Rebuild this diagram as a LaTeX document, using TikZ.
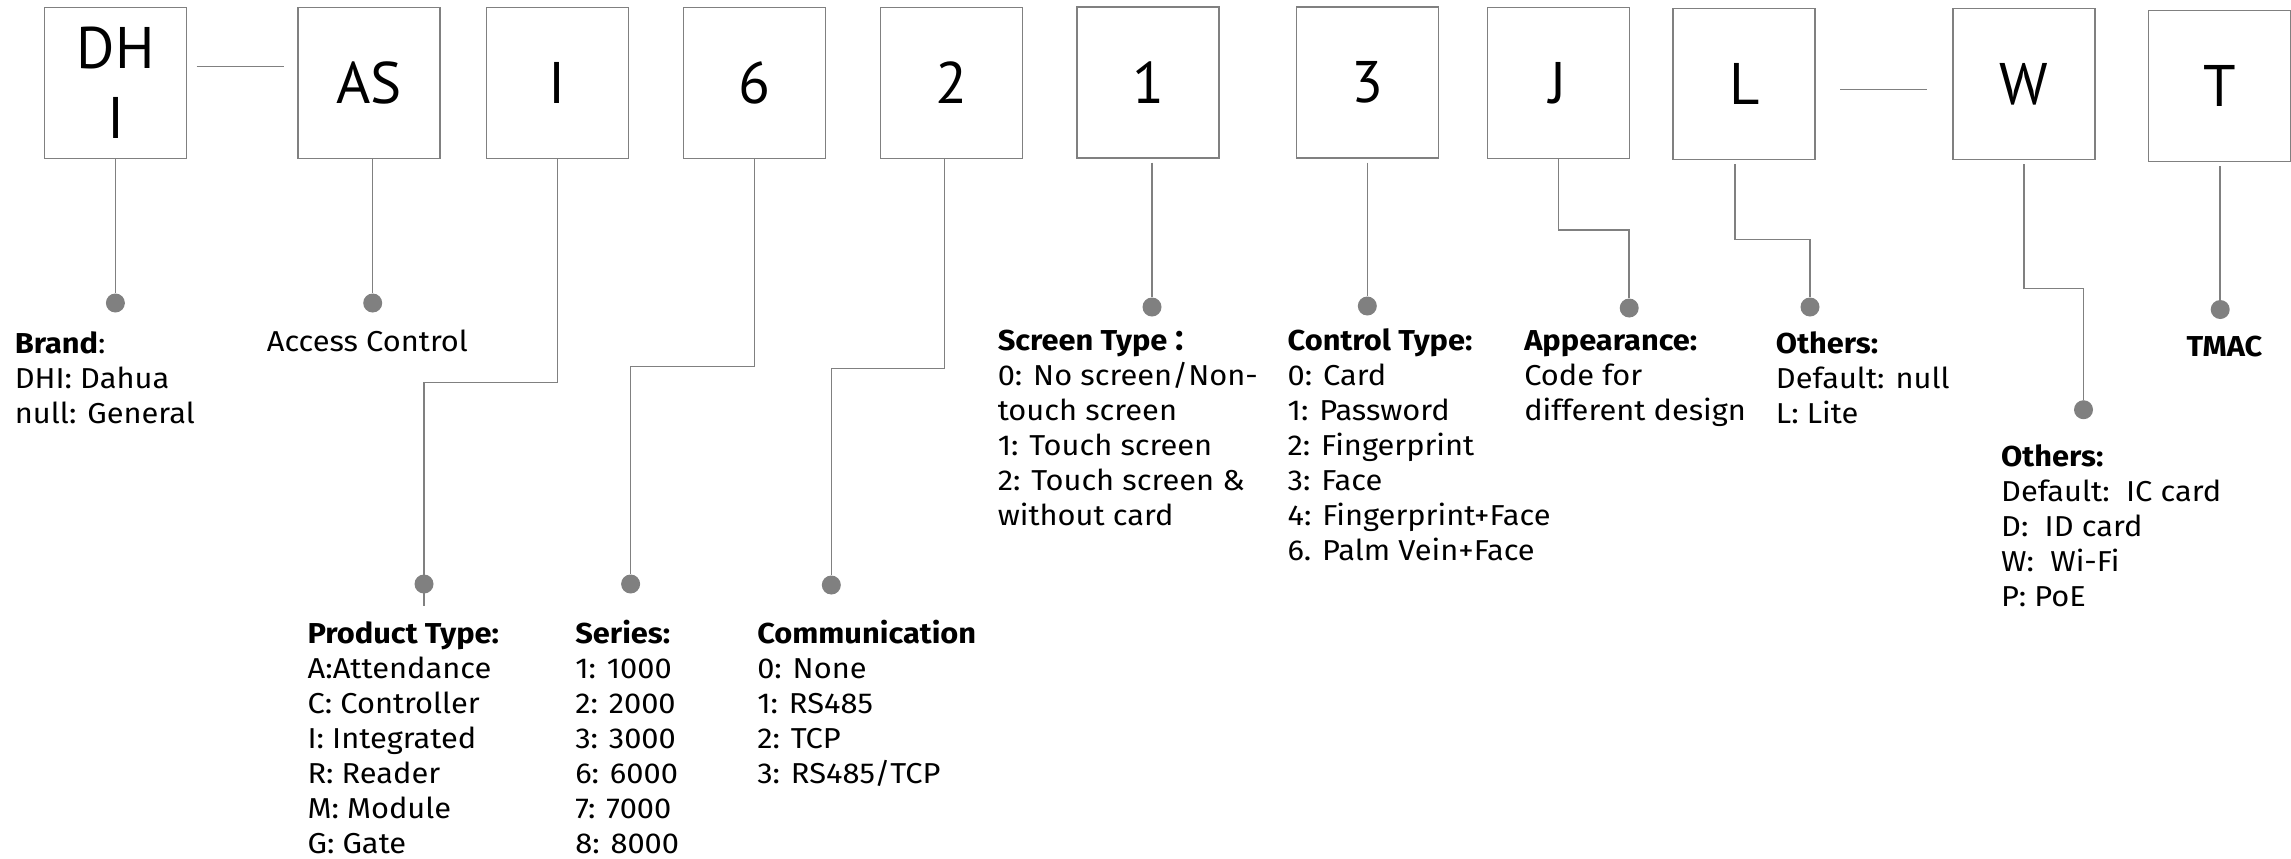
\documentclass[tikz,border=0pt]{standalone}
\usepackage{fontspec}
\setmainfont{Fira Sans}[FakeStretch=1.07]
\newfontfamily\codefont{PT Sans}
\newfontfamily\cjk{Noto Sans CJK SC}
\usetikzlibrary{calc}
\definecolor{linegray}{RGB}{128,128,128}
\newcommand\rows[1]{\begin{tabular}[t]{@{}l@{}}#1\end{tabular}}

\begin{document}
\begin{tikzpicture}[x=0.75pt,y=-0.75pt,
    codebox/.style={draw=linegray, line width=1.1pt, minimum width=106.5pt, minimum height=113.25pt,
      inner sep=0pt, align=center, font=\codefont\fontsize{44}{52.5}\selectfont},
    conn/.style={draw=linegray, line width=1.1pt},
    dot/.style={circle, fill=linegray, inner sep=0pt, minimum size=14.25pt},
    legend/.style={anchor=base west, inner sep=0pt, font=\fontsize{21.6}{26.25}\selectfont}]
  \useasboundingbox (0,0) rectangle (2291,858);

  % code letters
  \node[codebox] (dhi) at (115.6,83) {DH\\I};
  \node[codebox] (as) at (369,83) {AS};
  \node[codebox] (ibox) at (557.5,83) {I};
  \node[codebox] (sixbox) at (754.5,83) {6};
  \node[codebox] (twobox) at (951.7,83) {2};
  \node[codebox] (onebox) at (1148,82.5) {1};
  \node[codebox] (threebox) at (1367.6,82.5) {3};
  \node[codebox] (jbox) at (1558.3,82.8) {J};
  \node[codebox] (lbox) at (1744.2,84) {L};
  \node[codebox] (wbox) at (2023.9,84) {W};
  \node[codebox] (tbox) at (2219.5,86.2) {T};

  \draw[conn] ($(dhi.east)+(9.4,-16.3)$) -- ($(as.west)+(-13.5,-16.3)$);
  \draw[conn] ($(lbox.east)+(24.4,5.3)$) -- ($(wbox.west)+(-25.4,5.3)$);

  % end points
  \node[dot] (brandpt) at (115.4,303) {};
  \node[dot] (accpt) at (372.7,303) {};
  \node[dot] (ptypept) at (424,584) {};
  \node[dot] (seriespt) at (630.6,584) {};
  \node[dot] (commpt) at (831.3,585) {};
  \node[dot] (screenpt) at (1152,307) {};
  \node[dot] (ctrlpt) at (1367.3,306) {};
  \node[dot] (apppt) at (1629.2,308) {};
  \node[dot] (othlpt) at (1810,307) {};
  \node[dot] (othwpt) at (2083.5,409.7) {};
  \node[dot] (tmacpt) at (2220.2,309.5) {};

  \draw[conn] (dhi.south -| brandpt) -- (brandpt);
  \draw[conn] (as.south -| accpt) -- (accpt);
  \draw[conn] (ibox.south) |- (ptypept |- 0,382.5) -- ($(ptypept)+(0,22)$);
  \draw[conn] (sixbox.south) |- (seriespt |- 0,366.6) -- (seriespt);
  \draw[conn] ($(twobox.south)+(-7,0)$) |- (commpt |- 0,368.5) -- (commpt);
  \draw[conn, shorten <=3pt] (onebox.south -| screenpt) -- (screenpt);
  \draw[conn, shorten <=3pt] (threebox.south -| ctrlpt) -- (ctrlpt);
  \draw[conn] (jbox.south) |- (apppt |- 0,230) -- (apppt);
  \draw[conn, shorten <=3pt] ($(lbox.south)+(-9.3,0)$) |- (othlpt |- 0,239.3) -- (othlpt);
  \draw[conn, shorten <=3pt] (wbox.south) |- (othwpt |- 0,288.4) -- (othwpt);
  \draw[conn, shorten <=3pt] (tbox.south -| tmacpt) -- (tmacpt);

  % meanings
  \node[legend] (brand) at (14.5,353.7) {\rows{\textbf{Brand}:\\DHI: Dahua\\null: General}};
  \node[legend] (access) at (266.6,351.9) {Access Control};
  \node[legend] (ptype) at (307.3,643) {\rows{\textbf{Product Type:}\\A:Attendance\\C: Controller\\I: Integrated\\R: Reader\\M: Module\\G: Gate}};
  \node[legend] (series) at (575,643) {\rows{\textbf{Series:}\\1: 1000\\2: 2000\\3: 3000\\6: 6000\\7: 7000\\8: 8000}};
  \node[legend] (comm) at (757,643) {\rows{\textbf{Communication}\\0: None\\1: RS485\\2: TCP\\3: RS485/TCP}};
  \node[legend] (screen) at (997.5,350.8) {\rows{\textbf{Screen Type\,{\cjk ：}}\\0: No screen/Non-\\touch screen\\1: Touch screen\\2: Touch screen \&\\without card}};
  \node[legend] (ctrl) at (1287.4,350.8) {\rows{\textbf{Control Type:}\\0: Card\\1: Password\\2: Fingerprint\\3: Face\\4: Fingerprint+Face\\6. Palm Vein+Face}};
  \node[legend] (app) at (1524,350.8) {\rows{\textbf{Appearance:}\\Code for\\different design}};
  \node[legend] (othl) at (1775.7,353.7) {\rows{\textbf{Others:}\\Default: null\\L: Lite}};
  \node[legend] (tmac) at (2186.3,356.7) {\textbf{TMAC}};
  \node[legend] (othw) at (2000.9,466) {\rows{\textbf{Others:}\\Default:\ \ IC card\\D:\ \ ID card\\W:\ \ Wi-Fi\\P: PoE}};
\end{tikzpicture}
\end{document}
